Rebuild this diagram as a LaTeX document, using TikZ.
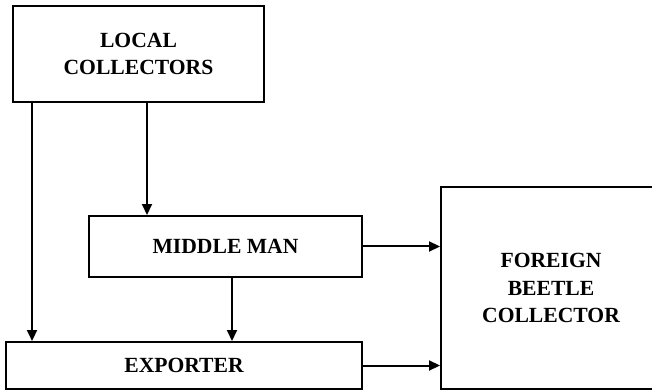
\documentclass[tikz,border=0pt]{standalone}
\usepackage{fontspec}
\setmainfont{Liberation Serif}
\usetikzlibrary{arrows.meta}

\begin{document}
\begin{tikzpicture}[x=0.02cm,y=-0.02cm,
                    boxND/.style={rectangle,
                                  draw=black,
                                  line width=0.04cm,
                                  align=center,
                                  inner sep=0pt,
                                  font=\fontsize{12.3}{15.4}\selectfont\bfseries},
                    arr/.style={-{Triangle[length=0.22cm,width=0.2cm]},
                                line width=0.04cm}]
    \useasboundingbox (0,0) rectangle (652,391);
    \clip (0,0) rectangle (652,391);
    \node[boxND,minimum width=5.02cm,minimum height=1.92cm](LC)  at (138.5,54)  {LOCAL\\COLLECTORS};
    \node[boxND,minimum width=5.46cm,minimum height=1.22cm](MM)  at (225.5,246.5) {MIDDLE MAN};
    \node[boxND,minimum width=7.12cm,minimum height=0.94cm](EX)  at (184,365.5) {EXPORTER};
    \node[boxND,minimum width=4.4cm, minimum height=4.04cm](FBC) at (551,288)  {FOREIGN\\BEETLE\\COLLECTOR};
    \path[arr]
        ([xshift=0.4cm]LC.south west)  edge ([xshift=0.4cm]LC.south west |- EX.north)
        ([xshift=2.7cm]LC.south west)  edge ([xshift=2.7cm]LC.south west |- MM.north)
        ([xshift=2.88cm]MM.south west) edge ([xshift=2.88cm]MM.south west |- EX.north)
        (MM.east)                      edge (MM.east -| FBC.west)
        (EX.east)                      edge (EX.east -| FBC.west)
        ;
\end{tikzpicture}
\end{document}
